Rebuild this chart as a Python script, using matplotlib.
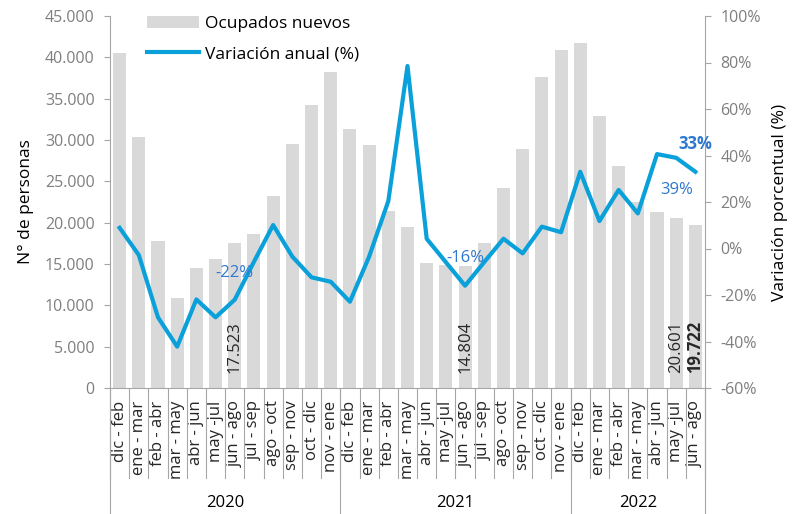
import matplotlib
matplotlib.use("Agg")
import matplotlib.pyplot as plt
from matplotlib.ticker import FuncFormatter, MultipleLocator
import matplotlib.transforms as mtransforms

plt.rcParams['font.family'] = ['Open Sans', 'DejaVu Sans']

periodos = ['dic - feb', 'ene - mar', 'feb - abr', 'mar - may', 'abr - jun', 'may -jul',
            'jun - ago', 'jul - sep', 'ago - oct', 'sep - nov', 'oct - dic', 'nov - ene',
            'dic - feb', 'ene - mar', 'feb - abr', 'mar - may', 'abr - jun', 'may -jul',
            'jun - ago', 'jul - sep', 'ago - oct', 'sep - nov', 'oct - dic', 'nov - ene',
            'dic - feb', 'ene - mar', 'feb - abr', 'mar - may', 'abr - jun', 'may -jul',
            'jun - ago']
anios = ['2020', '2021', '2022']
n_por_anio = [12, 12, 7]

ocupados = [40490, 30400, 17820, 10925, 14555, 15565, 17523, 18630, 23226, 29480, 34270, 38265,
            31330, 29400, 21450, 19515, 15120, 14900, 14804, 17580, 24155, 28910, 37585, 40925,
            41770, 32940, 26895, 22540, 21330, 20601, 19722]
variacion = [8.9, -2.8, -29.6, -42.2, -21.9, -29.6, -22.0, -5.7, 10.1, -3.5, -12.4, -14.3,
             -22.9, -3.5, 20.4, 78.5, 4.2, -5.9, -16.0, -5.8, 4.2, -2.1, 9.4, 7.0,
             33.0, 11.8, 25.2, 15.1, 40.6, 39.0, 33.0]

# etiquetas que se muestran en el grafico
barras_etiq = {6: ('17.523', 'normal'), 18: ('14.804', 'normal'),
               29: ('20.601', 'normal'), 30: ('19.722', 'bold')}
linea_etiq = {6: ('-22%', 27, 'normal'), 18: ('-16%', 28, 'normal'),
              29: ('39%', -32, 'normal'), 30: ('33%', 28, 'bold')}

gris_barra = '#D9D9D9'
azul = '#0AA0DA'
azul_txt = '#2E78D0'
gris_eje = '#A6A6A6'
gris_txt = '#7F7F7F'

fig = plt.figure(figsize=(8.01, 5.14), dpi=100)
ax = fig.add_axes([110 / 801, 126 / 514, 595 / 801, 372 / 514])
ax2 = ax.twinx()

x = list(range(len(periodos)))
ax.bar(x, ocupados, width=0.68, color=gris_barra, label='Ocupados nuevos', zorder=1)
ax2.plot(x, variacion, color=azul, lw=3, label='Variación anual (%)', zorder=3)

ax.set_xlim(-0.5, len(periodos) - 0.5)
ax.set_ylim(0, 45000)
ax2.set_ylim(-60, 100)
ax.yaxis.set_major_locator(MultipleLocator(5000))
ax2.yaxis.set_major_locator(MultipleLocator(20))
ax.yaxis.set_major_formatter(FuncFormatter(lambda v, p: f'{int(v):,}'.replace(',', '.')))
ax2.yaxis.set_major_formatter(FuncFormatter(lambda v, p: f'{int(v)}%'))

for a in (ax, ax2):
    for s in a.spines.values():
        s.set_visible(False)
    a.tick_params(axis='y', colors=gris_eje, labelcolor=gris_txt, labelsize=11.5, length=4, pad=7)
ax.spines['left'].set_visible(True)
ax.spines['left'].set_color(gris_eje)
ax2.spines['right'].set_visible(True)
ax2.spines['right'].set_color(gris_eje)
ax.spines['bottom'].set_visible(True)
ax.spines['bottom'].set_color(gris_eje)

ax.set_xticks(x)
ax.set_xticklabels(periodos, rotation=90, fontsize=12, color='#262626')
ax.tick_params(axis='x', length=0, pad=9)

ax.set_ylabel('N° de personas', fontsize=12.5, labelpad=8)
ax2.set_ylabel('Variación porcentual (%)', fontsize=12.5, labelpad=8)

# lineas del eje de categorias de dos niveles
trans = mtransforms.blended_transform_factory(ax.transData, ax.transAxes)
for i in range(len(periodos) + 1):
    ax.plot([i - 0.5, i - 0.5], [0, -0.242], transform=trans, color=gris_eje, lw=0.8, clip_on=False)
inicio = 0
for anio, n in zip(anios, n_por_anio):
    ax.plot([inicio - 0.5, inicio - 0.5], [0, -0.34], transform=trans, color=gris_eje, lw=0.8, clip_on=False)
    ax.text(inicio + (n - 1) / 2, -0.31, anio, transform=trans, ha='center', va='center',
            fontsize=12, color='black')
    inicio += n
ax.plot([inicio - 0.5, inicio - 0.5], [0, -0.34], transform=trans, color=gris_eje, lw=0.8, clip_on=False)

for i, (txt, peso) in barras_etiq.items():
    ax.text(i, 1800, txt, rotation=90, ha='center', va='bottom', fontsize=12,
            fontweight=peso, color='#262626', zorder=4)

for i, (txt, dy, peso) in linea_etiq.items():
    ax2.annotate(txt, (i, variacion[i]), xytext=(0, dy), textcoords='offset pixels',
                 ha='center', va='center', fontsize=12, fontweight=peso, color=azul_txt, zorder=5)

h1, l1 = ax.get_legend_handles_labels()
h2, l2 = ax2.get_legend_handles_labels()
leg = ax.legend(h1 + h2, l1 + l2, loc='upper left', bbox_to_anchor=(147 / 801, 1 - 16 / 514),
                bbox_transform=fig.transFigure, frameon=False, borderpad=0, borderaxespad=0,
                fontsize=12.5, handlelength=3.0, handletextpad=0.35, labelspacing=0.8)

fig.savefig('out.png', dpi=100)
